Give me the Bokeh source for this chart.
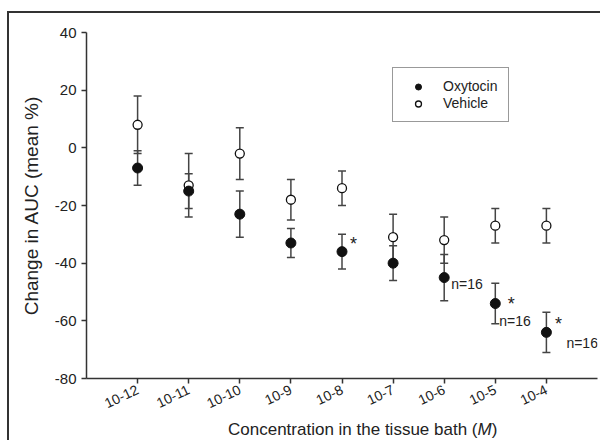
from bokeh.plotting import figure
from bokeh.layouts import column, row
from bokeh.models import (Range1d, FixedTicker, Whisker, TeeHead, ColumnDataSource,
                          Legend, LegendItem, Div)
from bokeh.core.properties import value
from bokeh.embed import file_html
from bokeh.resources import INLINE

# ---- data ----
conc_labels = ["10-12", "10-11", "10-10", "10-9", "10-8", "10-7", "10-6", "10-5", "10-4"]
oxytocin_mean = [-7, -15, -23, -33, -36, -40, -45, -54, -64]
oxytocin_err = [6, 6, 8, 5, 6, 6, 8, 7, 7]
vehicle_mean = [8, -13, -2, -18, -14, -31, -32, -27, -27]
vehicle_err = [10, 11, 9, 7, 6, 8, 8, 6, 6]
y_ticks = [-80, -60, -40, -20, 0, 20, 40]
star_idx = [4, 7, 8]            # concentrations marked with *
n_idx = [6, 7, 8]               # concentrations annotated n=16
n_text = ["n=16", "n=16", "n=16"]
x_title_main = "Concentration in the tissue bath ("
x_title_unit = "M"

FONT = "Liberation Sans"
INK = "#333333"
TXT = "#222222"

xs = list(range(1, len(conc_labels) + 1))

p = figure(width=591, height=403, x_range=Range1d(0, 10), y_range=Range1d(-80, 40),
           output_backend="svg", toolbar_location=None,
           min_border_left=77, min_border_right=3, min_border_top=19, min_border_bottom=32)
p.margin = 0
p.outline_line_color = None
p.xgrid.grid_line_color = None
p.ygrid.grid_line_color = None
p.background_fill_color = "white"

for ax in (p.xaxis[0], p.yaxis[0]):
    ax.axis_line_color = INK
    ax.axis_line_width = 1.5
    ax.major_tick_line_color = INK
    ax.major_tick_line_width = 1.5
    ax.major_tick_out = 5
    ax.major_tick_in = 0
    ax.minor_tick_line_color = None
    ax.major_label_text_font = FONT
    ax.major_label_text_font_size = "15px"
    ax.major_label_text_color = TXT

p.yaxis.ticker = FixedTicker(ticks=y_ticks)
p.yaxis.major_label_overrides = {t: str(t) for t in y_ticks}
p.yaxis.axis_label = "Change in AUC (mean %)"
p.yaxis.axis_label_text_font = FONT
p.yaxis.axis_label_text_font_size = "19px"
p.yaxis.axis_label_text_font_style = "normal"
p.yaxis.axis_label_text_color = TXT
p.yaxis.axis_label_standoff = 10

p.xaxis.ticker = FixedTicker(ticks=xs)
p.xaxis.major_label_overrides = {x: lab for x, lab in zip(xs, conc_labels)}
p.xaxis.major_label_text_font_size = "14px"
p.xaxis.major_label_orientation = 0.45

# error bars
vsrc = ColumnDataSource(dict(x=xs, y=vehicle_mean,
                             lo=[m - e for m, e in zip(vehicle_mean, vehicle_err)],
                             hi=[m + e for m, e in zip(vehicle_mean, vehicle_err)]))
osrc = ColumnDataSource(dict(x=xs, y=oxytocin_mean,
                             lo=[m - e for m, e in zip(oxytocin_mean, oxytocin_err)],
                             hi=[m + e for m, e in zip(oxytocin_mean, oxytocin_err)]))
for src in (vsrc, osrc):
    w = Whisker(source=src, base="x", upper="hi", lower="lo", dimension="height",
                line_color="#444444", line_width=1.5,
                upper_head=TeeHead(size=8, line_color="#444444", line_width=1.5),
                lower_head=TeeHead(size=8, line_color="#444444", line_width=1.5))
    w.level = "underlay"
    p.add_layout(w)

rv = p.scatter("x", "y", source=vsrc, marker="circle", size=9, fill_color="white",
               line_color="#111111", line_width=1.3)
ro = p.scatter("x", "y", source=osrc, marker="circle", size=10, fill_color="#111111",
               line_color="#111111")

# annotations
star_dx = [8, 12.5, 8.5]
star_dy = [-8, 0, -8]
p.text(x=[xs[i] for i in star_idx], y=[oxytocin_mean[i] for i in star_idx],
       text=["*"] * len(star_idx), x_offset=star_dx, y_offset=star_dy,
       text_font=value(FONT), text_font_size="18px", text_color=TXT,
       text_baseline="middle", text_align="left")
n_dx = [7, 4, 20]
n_dy = [6, 17, 11]
p.text(x=[xs[i] for i in n_idx], y=[oxytocin_mean[i] for i in n_idx],
       text=n_text, x_offset=n_dx, y_offset=n_dy,
       text_font=value(FONT), text_font_size="14px", text_color=TXT,
       text_baseline="middle", text_align="left")

legend = Legend(items=[LegendItem(label="Oxytocin", renderers=[ro]),
                       LegendItem(label="Vehicle", renderers=[rv])],
                location=(306, 256))
legend.margin = 0
legend.padding = 10
legend.spacing = 1
legend.glyph_width = 30
legend.glyph_height = 15
legend.label_height = 15
legend.label_width = 55
legend.label_standoff = 10
legend.label_text_font = FONT
legend.label_text_font_size = "14px"
legend.label_text_color = TXT
legend.border_line_color = INK
legend.border_line_width = 1
legend.background_fill_color = "white"
legend.background_fill_alpha = 1
p.add_layout(legend)

# x-axis title (HTML, so the unit can be italic)
x_title = Div(width=591, height=24, margin=0,
              text=('<div style="padding-left:219px;padding-top:4px;'
                    'font-family:\'Liberation Sans\';font-size:17px;line-height:19px;'
                    'white-space:nowrap;color:%s">%s<i>%s</i>)</div>'
                    % (TXT, x_title_main, x_title_unit)))

# outer figure frame (only its left and top edges fall inside the picture)
gap_top = Div(width=600, height=11, margin=0)
gap_l1 = Div(width=7, height=2, margin=0)
top_line = Div(width=593, height=2, margin=0, styles={"background-color": INK})
gap_l2 = Div(width=7, height=427, margin=0)
left_line = Div(width=2, height=427, margin=0, styles={"background-color": INK})
plot_col = column(p, x_title, spacing=0)
plot_col.margin = 0
r1 = row(gap_l1, top_line, spacing=0)
r2 = row(gap_l2, left_line, plot_col, spacing=0)
for r in (r1, r2):
    r.margin = 0
layout = column(gap_top, r1, r2, spacing=0)
layout.margin = 0

open("out.html", "w").write(file_html(layout, INLINE))
